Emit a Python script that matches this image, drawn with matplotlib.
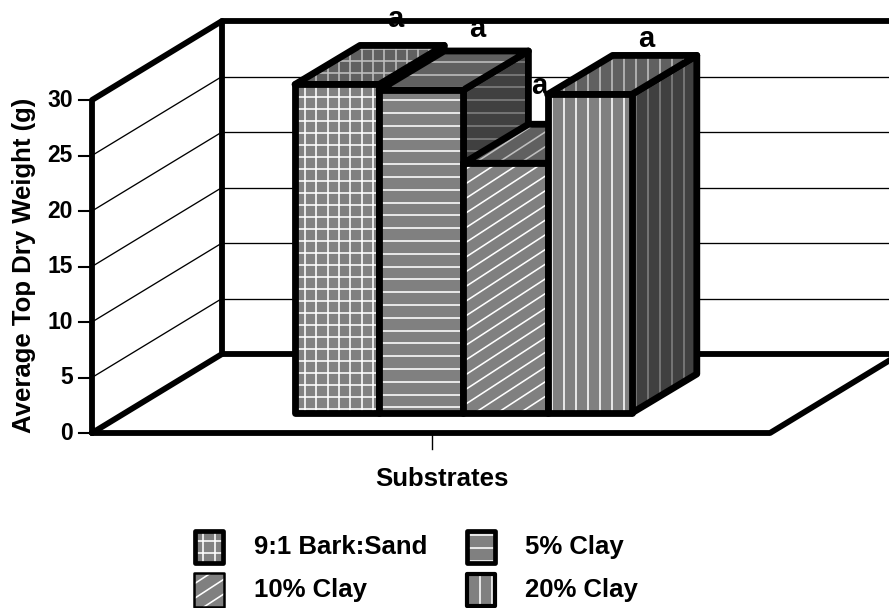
import numpy as np
import matplotlib
matplotlib.use('Agg')
import matplotlib.pyplot as plt
from matplotlib.patches import Polygon

plt.rcParams['font.family'] = ['Liberation Sans', 'DejaVu Sans']
plt.rcParams['font.weight'] = 'bold'

# data
substrates = ['9:1 Bark:Sand', '5% Clay', '10% Clay', '20% Clay']
top_dry_weight = [29.6, 29.1, 22.5, 28.7]
letters = ['a', 'a', 'a', 'a']
letter_height = [36.6, 35.7, 30.5, 34.8]
letter_shift = [58, 56, 34, 57]
patterns = ['grid', 'h', 'd', 'v']
y_ticks = [0, 5, 10, 15, 20, 25, 30]

# layout, x is in pixels, y is in chart units
K = 11.1
Y0 = 433
WALL_DX = 130
WALL_DY = 79 / K
BAR_DX = 65
BAR_DY = 39 / K
BAR_X = 295
BAR_W = 84.2
BAR_BASE = 20 / K
THICK = 4.2
BAR_LW = 4.9

fig = plt.figure(figsize=(8.89, 6.08), dpi=100)
ax = fig.add_axes([0, 0, 1, 1])
ax.set_xlim(0, 889)
ax.set_ylim((Y0 - 608) / K, Y0 / K)
ax.axis('off')

z = [10]


def hatch(poly, kind, color, lw=1.15, phase=0, spacing=None):
    x0, y0 = poly.get_xy().min(axis=0)
    x1, y1 = poly.get_xy().max(axis=0)
    lines = []
    if kind in ('grid', 'h'):
        sp = spacing or (12 if kind == 'grid' else 12.8)
        for y in np.arange(np.floor(y0 * K / sp) * sp + phase, y1 * K + sp, sp):
            lines.append(([x0, x1], [y / K, y / K]))
    if kind in ('grid', 'v'):
        sp = spacing or (11.3 if kind == 'grid' else 12)
        for x in np.arange(np.floor(x0 / sp) * sp + phase, x1 + sp, sp):
            lines.append(([x, x], [y0, y1]))
    if kind == 'd':
        sp = spacing or 22.6
        rise = 0.65
        w = x1 - x0
        h = (y1 - y0) * K
        for x in np.arange(np.floor((x0 - h / rise) / sp) * sp + phase, x1 + sp, sp):
            lines.append(([x, x + (h + w) / rise], [y0, y0 + (h + w) / K]))
    for xs, ys in lines:
        ln, = ax.plot(xs, ys, color=color, lw=lw, zorder=z[0], solid_capstyle='butt')
        ln.set_clip_path(poly)
    z[0] += 1


def face(corners, fill, kind, hatch_color, lw=BAR_LW):
    poly = Polygon(corners, closed=True, facecolor=fill, edgecolor='none', zorder=z[0])
    ax.add_patch(poly)
    z[0] += 1
    hatch(poly, kind, hatch_color)
    outline = Polygon(corners, closed=True, facecolor='none', edgecolor='black',
                      lw=lw, joinstyle='round', zorder=z[0])
    ax.add_patch(outline)
    z[0] += 1


# walls and floor
for t in y_ticks[1:]:
    ax.plot([92, 92 + WALL_DX], [t, t + WALL_DY], color='black', lw=0.95, zorder=2)
    ax.plot([92 + WALL_DX, 889], [t + WALL_DY, t + WALL_DY], color='black', lw=0.95, zorder=2)
for t in y_ticks:
    ax.plot([79, 92], [t, t], color='black', lw=1.5, zorder=2)
    ax.text(73, t, str(t), ha='right', va='center', fontsize=16.5)

wall = dict(color='black', lw=THICK, zorder=3, solid_joinstyle='round', solid_capstyle='round')
ax.plot([92, 92, 92 + WALL_DX, 92 + WALL_DX, 92], [0, 30, 30 + WALL_DY, WALL_DY, 0], **wall)
ax.plot([92 + WALL_DX, 889], [30 + WALL_DY, 30 + WALL_DY], **wall)
ax.plot([92 + WALL_DX, 889], [WALL_DY, WALL_DY], **wall)
ax.plot([92, 770, 770 + WALL_DX], [0, 0, WALL_DY], **wall)
ax.plot([432, 432], [0, -16 / K], color='black', lw=1.0, zorder=2)

# bars, left to right so each one paints over the last
for i, v in enumerate(top_dry_weight):
    l = BAR_X + i * BAR_W
    r = l + BAR_W
    b = BAR_BASE
    t = BAR_BASE + v
    face([(r, b), (r + BAR_DX, b + BAR_DY), (r + BAR_DX, t + BAR_DY), (r, t)],
         '#404040', patterns[i], '#808080')
    face([(l, t), (r, t), (r + BAR_DX, t + BAR_DY), (l + BAR_DX, t + BAR_DY)],
         '#606060', patterns[i], '#c0c0c0')
    face([(l, b), (r, b), (r, t), (l, t)], '#808080', patterns[i], 'white')

for i, s in enumerate(letters):
    ax.text(BAR_X + (i + 0.5) * BAR_W + letter_shift[i], letter_height[i], s,
            ha='center', va='baseline', fontsize=21, zorder=200)

ax.text(24, 15.1, 'Average Top Dry Weight (g)', rotation=90, ha='center', va='center', fontsize=18.5)
ax.text(442, (Y0 - 479) / K, 'Substrates', ha='center', va='center', fontsize=18.5)

# legend
swatch_x = [209, 481, 209, 481]
swatch_y = [547, 547, 590, 590]
text_x = [254, 525, 254, 525]
swatch_lw = [3.4, 3.4, 1.8, 3.0]
for i, name in enumerate(substrates):
    cx = swatch_x[i]
    cy = (Y0 - swatch_y[i]) / K
    hw = 16 - swatch_lw[i] * 0.69
    hh = (18.5 - swatch_lw[i] * 0.69) / K
    face([(cx - hw, cy - hh), (cx + hw, cy - hh), (cx + hw, cy + hh), (cx - hw, cy + hh)],
         '#808080', patterns[i], 'white', lw=swatch_lw[i])
    ax.text(text_x[i], cy, name, ha='left', va='center', fontsize=18.5)

fig.savefig('out.png', dpi=100)
